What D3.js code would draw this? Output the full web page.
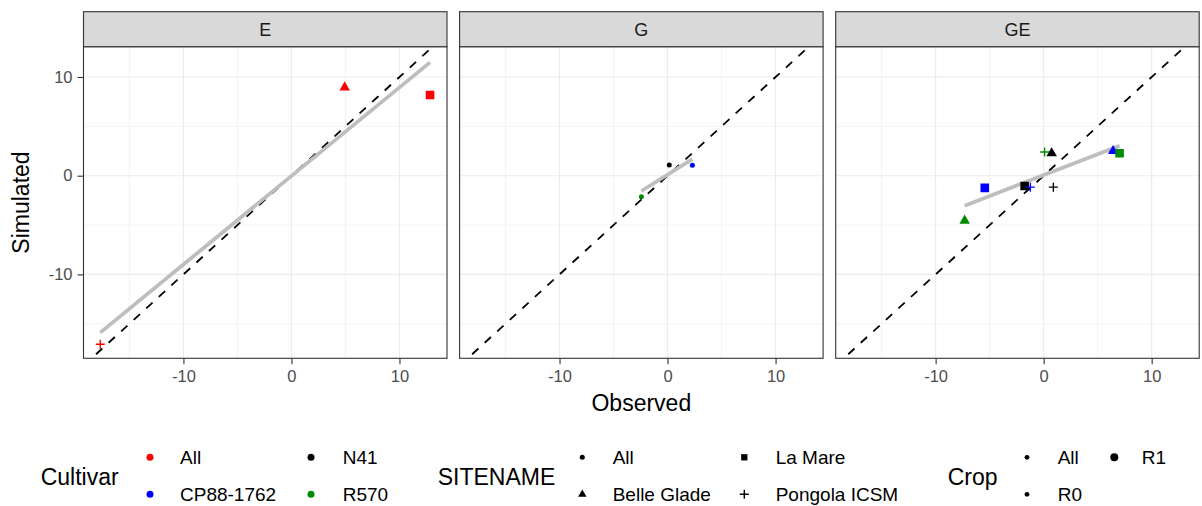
<!DOCTYPE html>
<html>
<head>
<meta charset="utf-8">
<script src="https://cdn.jsdelivr.net/npm/d3@7"></script>
<style>
  body { margin: 0; background: #fff; }
  text { font-family: "Liberation Sans", Arial, sans-serif; }
</style>
</head>
<body>
<svg id="chart" width="1202" height="506"></svg>
<script>
// Data
const facets = ['E', 'G', 'GE'];
const cultivars = ['All', 'CP88-1762', 'N41', 'R570'];
const sites = ['All', 'Belle Glade', 'La Mare', 'Pongola ICSM'];
const crops = ['All', 'R0', 'R1'];
const xTicks = [-10, 0, 10];
const yTicks = [-10, 0, 10];
const xLimits = [-19.25, 14.4];
const yLimits = [-18.5, 13.07];

const pointFacet = ['E', 'E', 'E', 'G', 'G', 'G',
  'GE', 'GE', 'GE', 'GE', 'GE', 'GE', 'GE', 'GE', 'GE'];
const pointCultivar = ['All', 'All', 'All', 'N41', 'CP88-1762', 'R570',
  'N41', 'N41', 'N41', 'CP88-1762', 'CP88-1762', 'CP88-1762', 'R570', 'R570', 'R570'];
const pointSite = ['Pongola ICSM', 'Belle Glade', 'La Mare', 'All', 'All', 'All',
  'Belle Glade', 'La Mare', 'Pongola ICSM', 'Belle Glade', 'La Mare', 'Pongola ICSM',
  'Belle Glade', 'La Mare', 'Pongola ICSM'];
const pointCrop = ['R1', 'R1', 'R1', 'All', 'All', 'All',
  'R1', 'R1', 'R1', 'R1', 'R1', 'R1', 'R1', 'R1', 'R1'];
const pointObserved = [-17.7, 4.93, 12.83, 0.16, 2.3, -2.42,
  0.74, -1.76, 0.9, 6.43, -5.45, -1.23, -7.31, 7.03, 0.09];
const pointSimulated = [-17.07, 8.95, 8.17, 1.08, 1.05, -2.12,
  2.27, -1.04, -1.16, 2.5, -1.23, -1.16, -4.55, 2.28, 2.4];

const fitFacet = ['E', 'G', 'GE'];
const fitObserved = [[-17.7, 12.83], [-2.42, 2.3], [-7.31, 7.03]];
const fitSimulated = [[-15.9, 11.48], [-1.55, 1.68], [-3.04, 3.04]];

// Layout
const svg = d3.select('#chart');
const panelTop = 46.7;
const panelBottom = 358.3;
const stripTop = 11.7;

const facetScale = d3.scaleBand()
  .domain(facets)
  .range([83.5, 1199.2])
  .paddingInner(0.0335);
const pw = facetScale.bandwidth();

const y = d3.scaleLinear().domain(yLimits).range([panelBottom, panelTop]);

// ggplot-style "+" (stroked), size = width^2
const symbolPlusLine = {
  draw(context, size) {
    const r = Math.sqrt(size) / 2;
    context.moveTo(-r, 0);
    context.lineTo(r, 0);
    context.moveTo(0, -r);
    context.lineTo(0, r);
  },
};

const colour = d3.scaleOrdinal(cultivars, ['#ff0000', '#0000ff', '#000000', '#008b00']);
const shape = d3.scaleOrdinal(sites, [d3.symbolCircle, d3.symbolTriangle, d3.symbolSquare, symbolPlusLine]);

// marker width in px -> d3 symbol area
function symArea(type, w) {
  if (type === d3.symbolCircle) return Math.PI * w * w / 4;
  if (type === d3.symbolTriangle) return Math.sqrt(3) * w * w / 4;
  return w * w;
}
function markerWidth(site, crop) {
  if (crop === 'R1') {
    return { 'All': 9, 'Belle Glade': 10.5, 'La Mare': 8.6, 'Pongola ICSM': 9 }[site];
  }
  return { 'All': 5, 'Belle Glade': 7, 'La Mare': 5.5, 'Pongola ICSM': 7 }[site];
}
function drawMarker(g, type, w, fill, cx, cy) {
  const isPlus = type === symbolPlusLine;
  g.append('path')
    .attr('transform', `translate(${cx},${cy})`)
    .attr('d', d3.symbol(type, symArea(type, w))())
    .attr('fill', isPlus ? 'none' : fill)
    .attr('stroke', isPlus ? fill : 'none')
    .attr('stroke-width', isPlus ? 1.4 : 0);
}

const points = pointFacet.map((f, i) => ({
  facet: f, cultivar: pointCultivar[i], site: pointSite[i], crop: pointCrop[i],
  obs: pointObserved[i], sim: pointSimulated[i],
}));

facets.forEach((f, fi) => {
  const x0 = facetScale(f);
  const x = d3.scaleLinear().domain(xLimits).range([x0, x0 + pw]);
  const g = svg.append('g');

  // Panel background + grid
  g.append('rect').attr('x', x0).attr('y', panelTop).attr('width', pw)
    .attr('height', panelBottom - panelTop).attr('fill', '#fff');

  const minor = [-15, -5, 5];
  g.selectAll('.vminor').data(minor).enter().append('line')
    .attr('x1', d => x(d)).attr('x2', d => x(d))
    .attr('y1', panelTop).attr('y2', panelBottom)
    .attr('stroke', '#ebebeb').attr('stroke-width', 0.6);
  g.selectAll('.hminor').data(minor).enter().append('line')
    .attr('y1', d => y(d)).attr('y2', d => y(d))
    .attr('x1', x0).attr('x2', x0 + pw)
    .attr('stroke', '#ebebeb').attr('stroke-width', 0.6);
  g.selectAll('.vmajor').data(xTicks).enter().append('line')
    .attr('x1', d => x(d)).attr('x2', d => x(d))
    .attr('y1', panelTop).attr('y2', panelBottom)
    .attr('stroke', '#ebebeb').attr('stroke-width', 1.1);
  g.selectAll('.hmajor').data(yTicks).enter().append('line')
    .attr('y1', d => y(d)).attr('y2', d => y(d))
    .attr('x1', x0).attr('x2', x0 + pw)
    .attr('stroke', '#ebebeb').attr('stroke-width', 1.1);

  // clip
  const clipId = `clip-${fi}`;
  g.append('clipPath').attr('id', clipId).append('rect')
    .attr('x', x0).attr('y', panelTop).attr('width', pw).attr('height', panelBottom - panelTop);
  const inner = g.append('g').attr('clip-path', `url(#${clipId})`);

  // 1:1 line
  inner.append('line')
    .attr('x1', x(xLimits[0])).attr('y1', y(xLimits[0]))
    .attr('x2', x(xLimits[1])).attr('y2', y(xLimits[1]))
    .attr('stroke', '#000').attr('stroke-width', 1.8)
    .attr('stroke-dasharray', '8.5,8.5');

  // fitted line
  fitFacet.forEach((ff, i) => {
    if (ff !== f) return;
    inner.append('path')
      .datum(fitObserved[i].map((o, k) => [o, fitSimulated[i][k]]))
      .attr('d', d3.line().x(d => x(d[0])).y(d => y(d[1])))
      .attr('fill', 'none').attr('stroke', '#bebebe').attr('stroke-width', 3.8);
  });

  // points
  points.filter(p => p.facet === f).forEach(p => {
    const t = shape(p.site);
    drawMarker(inner, t, markerWidth(p.site, p.crop), colour(p.cultivar), x(p.obs), y(p.sim));
  });

  // border
  g.append('rect').attr('x', x0).attr('y', panelTop).attr('width', pw)
    .attr('height', panelBottom - panelTop)
    .attr('fill', 'none').attr('stroke', '#333').attr('stroke-width', 1.1);

  // strip
  g.append('rect').attr('x', x0).attr('y', stripTop).attr('width', pw)
    .attr('height', panelTop - stripTop)
    .attr('fill', '#d9d9d9').attr('stroke', '#333').attr('stroke-width', 1.1);
  g.append('text').attr('x', x0 + pw / 2).attr('y', (stripTop + panelTop) / 2 + 6.5)
    .attr('text-anchor', 'middle').attr('fill', '#1a1a1a').style('font-size', '18px')
    .text(f);

  // x axis
  const xAxis = d3.axisBottom(x).tickValues(xTicks).tickFormat(d => String(d))
    .tickSize(6).tickSizeOuter(0).tickPadding(6);
  const xa = g.append('g').attr('transform', `translate(0,${panelBottom})`).call(xAxis);
  xa.select('.domain').remove();
  xa.selectAll('line').attr('stroke', '#333').attr('stroke-width', 1.1);
  xa.selectAll('text').attr('fill', '#4d4d4d').style('font-size', '16.5px')
    .style('font-family', '"Liberation Sans", Arial, sans-serif');

  if (fi === 0) {
    const yAxis = d3.axisLeft(y).tickValues(yTicks).tickFormat(d => String(d))
      .tickSize(6).tickSizeOuter(0).tickPadding(5);
    const ya = g.append('g').attr('transform', `translate(${x0},0)`).call(yAxis);
    ya.select('.domain').remove();
    ya.selectAll('line').attr('stroke', '#333').attr('stroke-width', 1.1);
    ya.selectAll('text').attr('fill', '#4d4d4d').style('font-size', '16.5px')
      .style('font-family', '"Liberation Sans", Arial, sans-serif');
  }
});

// Axis titles
svg.append('text')
  .attr('x', (facetScale.range()[0] + facetScale.range()[1]) / 2).attr('y', 411)
  .attr('text-anchor', 'middle').style('font-size', '23px').text('Observed');
svg.append('text')
  .attr('transform', `translate(28.5,${(panelTop + panelBottom) / 2}) rotate(-90)`)
  .attr('text-anchor', 'middle').style('font-size', '23px').text('Simulated');

// Legends
const row1 = 457.3;
const row2 = 494.3;
const legends = [
  { title: 'Cultivar', tx: 40.7, keys: [150, 311], labels: [180, 342.7], items: cultivars,
    marker: d => ({ type: d3.symbolCircle, w: 7, fill: colour(d) }) },
  { title: 'SITENAME', tx: 437.7, keys: [582.3, 744.3], labels: [612.7, 775.7], items: sites,
    marker: d => ({ type: shape(d), w: { 'All': 5, 'Belle Glade': 8.5, 'La Mare': 6.3, 'Pongola ICSM': 9 }[d], fill: '#000' }) },
  { title: 'Crop', tx: 947.7, keys: [1027, 1114.3], labels: [1057.7, 1141.7], items: crops,
    marker: d => ({ type: d3.symbolCircle, w: d === 'R1' ? 8 : 4.8, fill: '#000' }) },
];

legends.forEach(lg => {
  const g = svg.append('g');
  g.append('text').attr('x', lg.tx).attr('y', 477 + 8.2)
    .style('font-size', '23px').text(lg.title);
  lg.items.forEach((d, i) => {
    const col = Math.floor(i / 2);
    const cy = i % 2 === 0 ? row1 : row2;
    const m = lg.marker(d);
    drawMarker(g, m.type, m.w, m.fill, lg.keys[col], cy);
    g.append('text').attr('x', lg.labels[col]).attr('y', cy + 6.8)
      .style('font-size', '19px').text(d);
  });
});
</script>
</body>
</html>
